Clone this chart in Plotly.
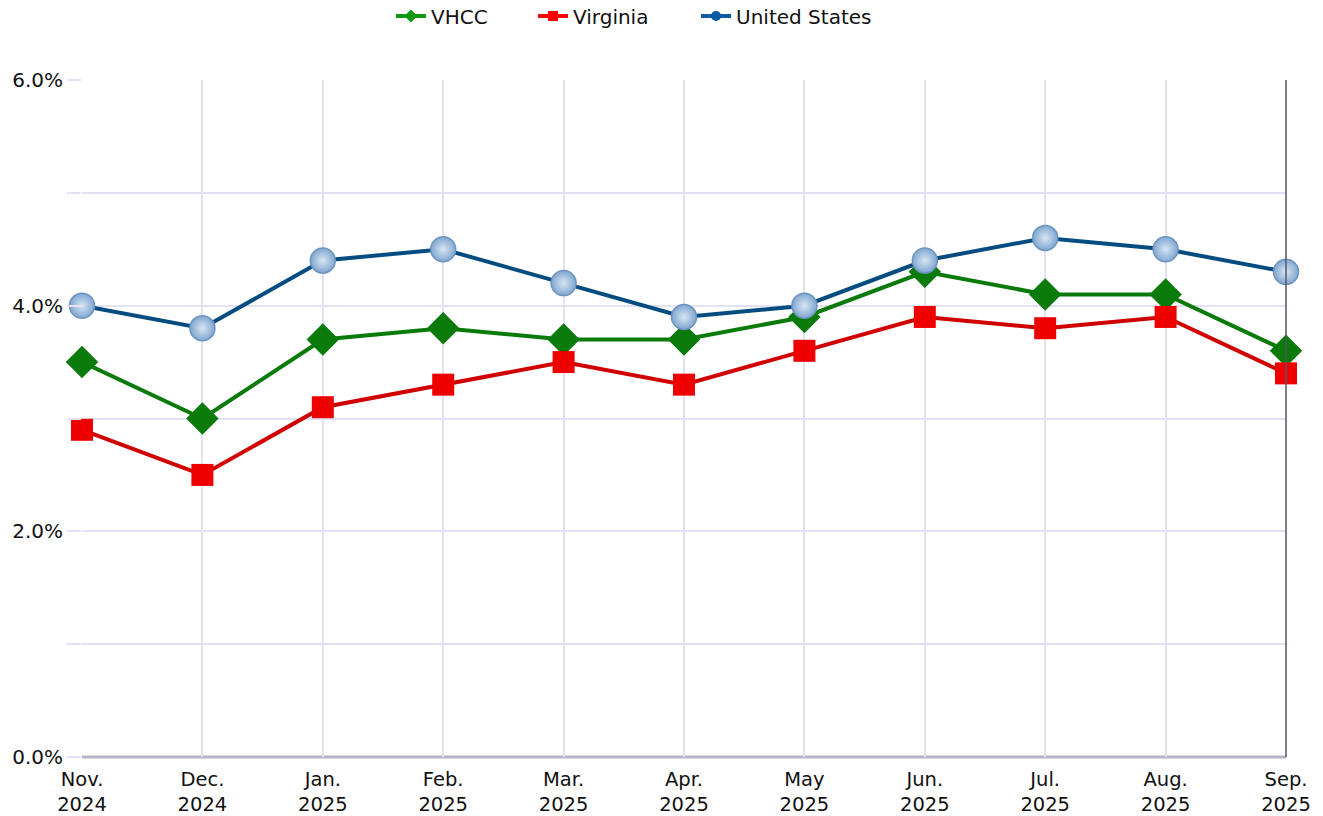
import plotly.graph_objects as go

months = ["Nov.<br>2024", "Dec.<br>2024", "Jan.<br>2025", "Feb.<br>2025", "Mar.<br>2025",
          "Apr.<br>2025", "May<br>2025", "Jun.<br>2025", "Jul.<br>2025", "Aug.<br>2025", "Sep.<br>2025"]
vhcc = [3.5, 3.0, 3.7, 3.8, 3.7, 3.7, 3.9, 4.3, 4.1, 4.1, 3.6]
virginia = [2.9, 2.5, 3.1, 3.3, 3.5, 3.3, 3.6, 3.9, 3.8, 3.9, 3.4]
united_states = [4.0, 3.8, 4.4, 4.5, 4.2, 3.9, 4.0, 4.4, 4.6, 4.5, 4.3]
y_ticks = [0, 1, 2, 3, 4, 5, 6]
y_labels = ["0.0%", "", "2.0%", "", "4.0%", "", "6.0%"]

FONT = "DejaVu Sans"
GREEN, RED, BLUE = "#0a7a0a", "#d00000", "#054c80"

fig = go.Figure()
fig.add_trace(go.Scatter(
    x=months, y=vhcc, name="VHCC", mode="lines+markers", cliponaxis=False, showlegend=False,
    line=dict(color=GREEN, width=4),
    marker=dict(symbol="diamond", size=25, color=GREEN, line=dict(width=0)),
))
fig.add_trace(go.Scatter(
    x=months, y=virginia, name="Virginia", mode="lines+markers", cliponaxis=False, showlegend=False,
    line=dict(color=RED, width=4),
    marker=dict(symbol="square", size=22, color="#ee0000", line=dict(width=0)),
))
fig.add_trace(go.Scatter(
    x=months, y=united_states, name="United States", mode="lines+markers", cliponaxis=False,
    showlegend=False,
    line=dict(color=BLUE, width=4),
    marker=dict(symbol="circle", size=25, color="#7fa6cf",
                gradient=dict(type="radial", color="#d8e6f4"),
                line=dict(width=1.5, color="#6d94bf")),
))

# legend-only entries with small symbols, each in its own legend box
legend_items = [("VHCC", "#119911", "diamond", "legend", 0.2566),
                ("Virginia", "#ff0000", "square", "legend2", 0.3746),
                ("United States", "#0a5aa0", "circle", "legend3", 0.5100)]
for name, col, sym, lg, _ in legend_items:
    fig.add_trace(go.Scatter(x=[None], y=[None], name=name, mode="lines+markers", legend=lg,
                             line=dict(color=col, width=4),
                             marker=dict(symbol=sym, size=10, color=col)))

fig.add_shape(type="line", xref="paper", yref="paper", x0=1, x1=1, y0=0, y1=1,
              line=dict(color="#555566", width=1.5), layer="above")
fig.add_shape(type="line", xref="paper", yref="paper", x0=0, x1=1, y0=0, y1=0,
              line=dict(color="#b4b4c4", width=3), layer="below")

legends = {}
for name, col, sym, lg, xpos in legend_items:
    legends[lg] = dict(orientation="h", x=xpos, xanchor="left", y=1.0945, yanchor="middle",
                       font=dict(size=20, family=FONT), bgcolor="rgba(0,0,0,0)")

fig.update_layout(
    width=1323, height=816,
    margin=dict(l=82, r=37, t=80, b=59, autoexpand=False),
    paper_bgcolor="white", plot_bgcolor="white",
    font=dict(family=FONT, size=19, color="#111111"),
    showlegend=True,
    xaxis=dict(type="category", range=[0, 10], showgrid=True, gridcolor="#e2e2f4", gridwidth=1.5,
               zeroline=False, showline=False, ticks="", automargin=False, ticklabelstandoff=8,
               tickfont=dict(size=19.5, family=FONT)),
    yaxis=dict(range=[0, 6], tickvals=y_ticks, ticktext=y_labels, showgrid=True,
               gridcolor="#e2e2f4", gridwidth=1.5, zeroline=False, ticks="outside", ticklen=14,
               tickcolor="#e2e2f4", tickwidth=1.5, showline=False, automargin=False,
               tickfont=dict(size=20, family=FONT)),
    **legends,
)
fig.write_html("out.html", config={"displayModeBar": False},
               post_script="document.body.style.margin='0px';document.body.style.padding='0px';")
